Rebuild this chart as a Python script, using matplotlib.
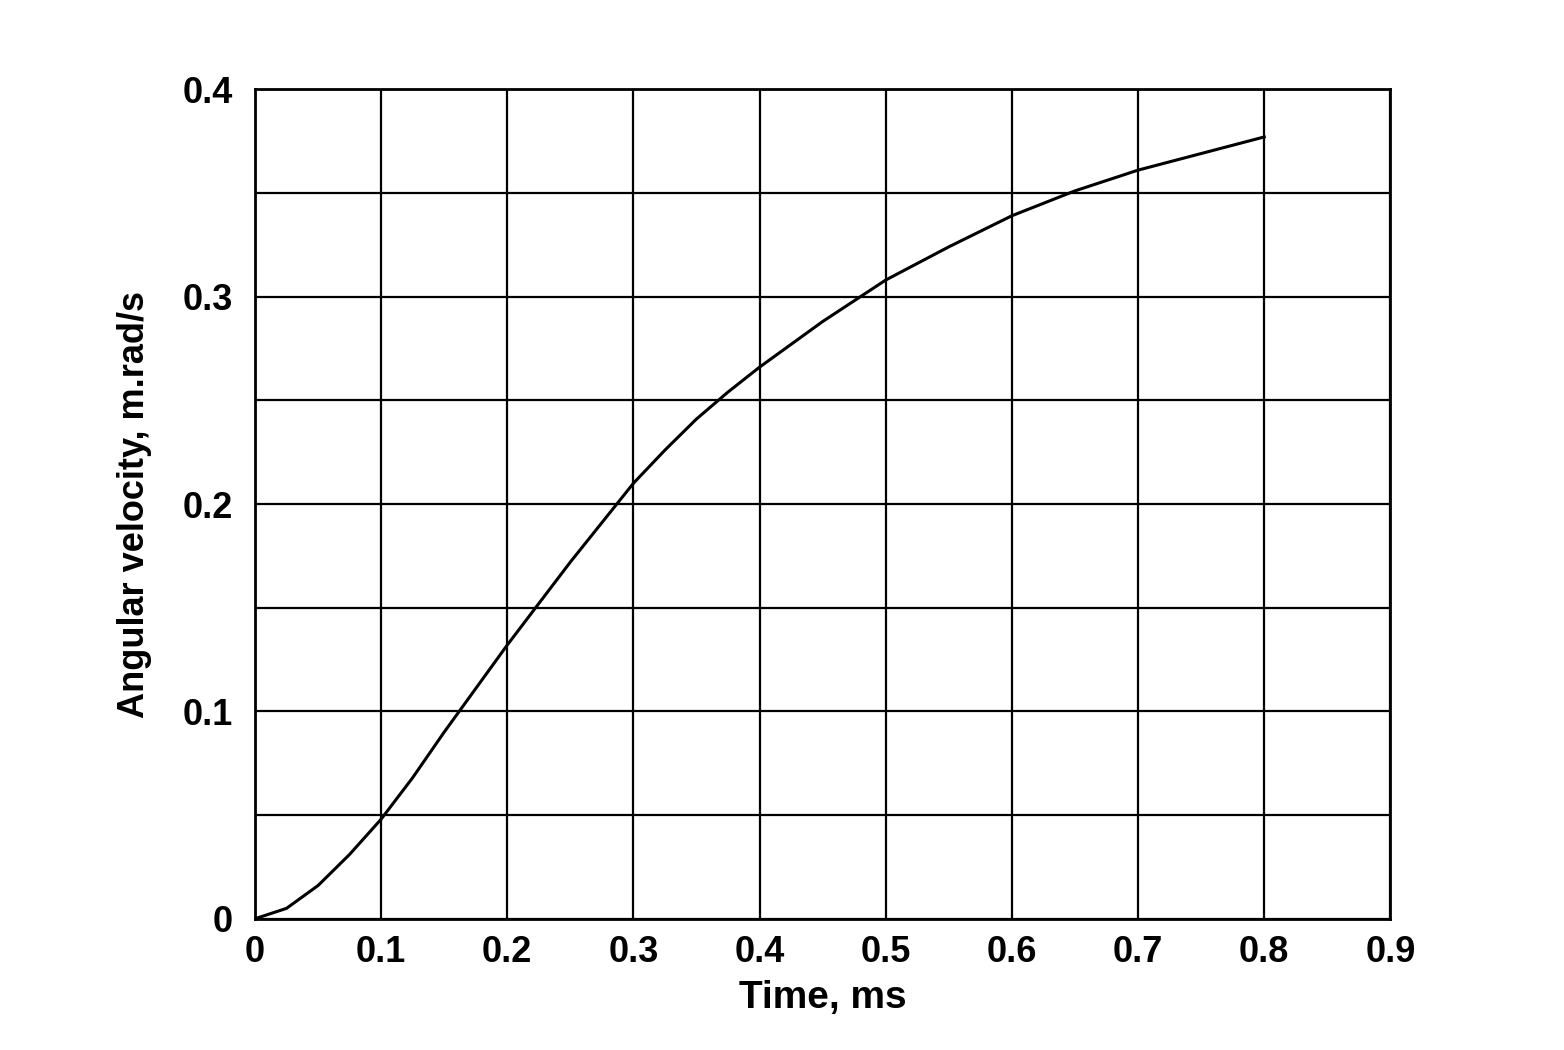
import numpy as np
import matplotlib
matplotlib.use("Agg")
import matplotlib.pyplot as plt

plt.rcParams['font.family'] = ['Liberation Sans', 'DejaVu Sans']

time_ms = [0.0, 0.025, 0.05, 0.075, 0.1, 0.125, 0.15, 0.175, 0.2, 0.225,
           0.25, 0.275, 0.3, 0.325, 0.35, 0.375, 0.4, 0.425, 0.45, 0.475,
           0.5, 0.55, 0.6, 0.65, 0.7, 0.75, 0.8]
ang_vel = [0.0, 0.005, 0.016, 0.031, 0.048, 0.068, 0.090, 0.111, 0.132, 0.152,
           0.172, 0.191, 0.210, 0.226, 0.241, 0.254, 0.266, 0.277, 0.288, 0.298,
           0.308, 0.324, 0.339, 0.351, 0.361, 0.369, 0.377]

x_ticks = [0, 0.1, 0.2, 0.3, 0.4, 0.5, 0.6, 0.7, 0.8, 0.9]
x_labels = ['0', '0.1', '0.2', '0.3', '0.4', '0.5', '0.6', '0.7', '0.8', '0.9']
y_ticks = [0, 0.1, 0.2, 0.3, 0.4]
y_labels = ['0', '0.1', '0.2', '0.3', '0.4']

fig = plt.figure(figsize=(15.64, 10.5), dpi=100)
ax = fig.add_axes([0.163, 0.125, 0.726, 0.79])

ax.plot(time_ms, ang_vel, color='black', lw=2.2)

ax.set_xlim(0, 0.9)
ax.set_ylim(0, 0.4)
ax.set_xticks(x_ticks)
ax.set_xticklabels(x_labels)
ax.set_yticks(y_ticks)
ax.set_yticklabels(y_labels)
ax.set_yticks(np.arange(0, 0.41, 0.05), minor=True)
ax.grid(True, which='both', color='black', lw=1.6)
ax.tick_params(which='both', length=0, labelsize=26)
ax.tick_params(axis='y', pad=16)
ax.tick_params(axis='x', pad=12)
for lab in ax.get_xticklabels() + ax.get_yticklabels():
    lab.set_fontweight('bold')
for s in ax.spines.values():
    s.set_linewidth(2)

ax.set_xlabel('Time, ms', fontsize=28, fontweight='bold', labelpad=7)
ax.set_ylabel('Angular velocity, m.rad/s', fontsize=26, fontweight='bold', labelpad=22)

fig.savefig('out.png', dpi=100, facecolor='white')
